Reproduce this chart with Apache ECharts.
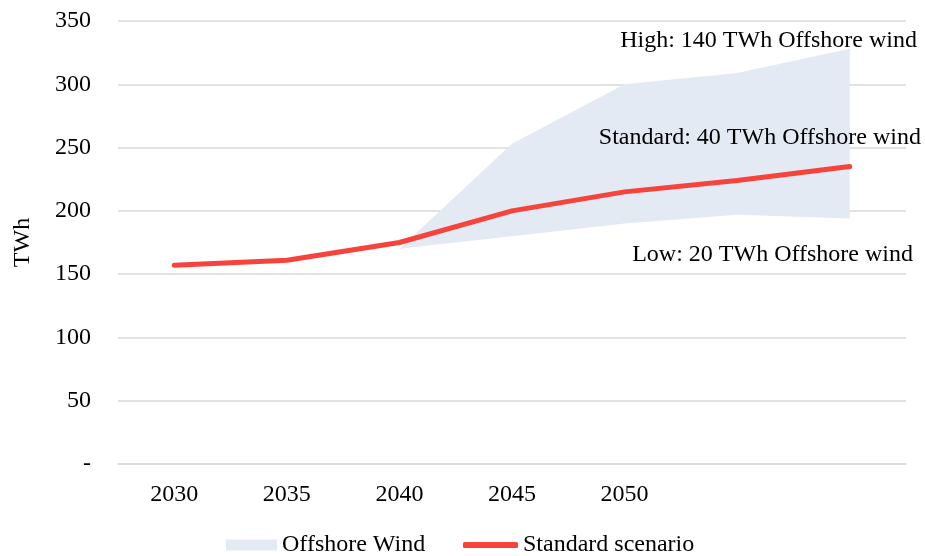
<!DOCTYPE html>
<html>
<head>
<meta charset="utf-8">
<script src="https://cdn.jsdelivr.net/npm/echarts@6/dist/echarts.min.js"></script>
<style>
  html, body { margin: 0; padding: 0; background: #fff; }
  #chart { width: 925px; height: 556px; }
</style>
</head>
<body>
<div id="chart"></div>
<script>
// Year categories along the x axis (the last two carry no tick label)
const years = ['2030', '2035', '2040', '2045', '2050', '2055', '2060'];
const yearLabels = ['2030', '2035', '2040', '2045', '2050', '', ''];

// Standard scenario, TWh
const standardScenario = [157, 161, 175, 200, 215, 224, 235];

// Offshore wind range: low and high edges of the band, TWh
const offshoreLow  = [null, null, 170, 180, 190, 197, 194];
const offshoreHigh = [null, null, 170, 253, 300, 309, 328];

// Y-axis tick labels
const yTicks = [0, 50, 100, 150, 200, 250, 300, 350];
const yTickText = ['-', '50', '100', '150', '200', '250', '300', '350'];

// Scenario notes
const notes = [
  { text: 'High: 140 TWh Offshore wind', x: 917, y: 41 },
  { text: 'Standard: 40 TWh Offshore wind', x: 921, y: 138 },
  { text: 'Low: 20 TWh Offshore wind', x: 913, y: 255 }
];

const FONT = '"Liberation Serif", "Times New Roman", serif';
const FS = 24;
const BAND = '#E3EAF3';
const RED = '#F6433B';

// Band thickness on top of the low edge, for stacking
const bandWidth = offshoreHigh.map((h, i) =>
  h == null || offshoreLow[i] == null ? '-' : h - offshoreLow[i]);
const bandBase = offshoreLow.map(v => v == null ? '-' : v);

const chart = echarts.init(document.getElementById('chart'), null, { renderer: 'canvas' });

chart.setOption({
  animation: false,
  backgroundColor: '#fff',
  grid: { left: 118, right: 19, top: 21, bottom: 92 },
  legend: [
    {
      data: ['Offshore Wind'],
      left: 221, top: 527,
      icon: 'rect', itemWidth: 51, itemHeight: 11,
      textStyle: { fontFamily: FONT, fontSize: FS, color: '#000', lineHeight: 26 },
      selectedMode: false
    },
    {
      data: ['Standard scenario'],
      left: 458, top: 527,
      icon: 'roundRect', itemWidth: 55, itemHeight: 6,
      textStyle: { fontFamily: FONT, fontSize: FS, color: '#000', lineHeight: 26 },
      selectedMode: false
    }
  ],
  xAxis: {
    type: 'category',
    data: years,
    boundaryGap: true,
    axisLine: { show: true, lineStyle: { color: '#D9D9D9', width: 1.5 } },
    axisTick: { show: false },
    axisLabel: {
      margin: 19,
      fontFamily: FONT, fontSize: FS, color: '#000',
      formatter: (v, i) => yearLabels[i]
    }
  },
  yAxis: {
    type: 'value',
    min: 0, max: 350, interval: 50,
    name: 'TWh',
    nameLocation: 'middle',
    nameRotate: 90,
    nameGap: 83,
    nameTextStyle: { fontFamily: FONT, fontSize: FS, color: '#000' },
    axisLine: { show: false },
    axisTick: { show: false },
    splitLine: { lineStyle: { color: '#D9D9D9', width: 1.5 } },
    axisLabel: {
      margin: 27,
      fontFamily: FONT, fontSize: FS, color: '#000',
      formatter: v => yTickText[yTicks.indexOf(v)]
    }
  },
  series: [
    {
      name: 'offshore-low',
      type: 'line',
      stack: 'offshore',
      data: bandBase,
      symbol: 'none',
      lineStyle: { width: 0, opacity: 0 },
      silent: true,
      z: 1
    },
    {
      name: 'Offshore Wind',
      type: 'line',
      stack: 'offshore',
      data: bandWidth,
      symbol: 'none',
      itemStyle: { color: BAND },
      lineStyle: { width: 0, opacity: 0 },
      areaStyle: { color: BAND, opacity: 1 },
      silent: true,
      z: 1
    },
    {
      name: 'Standard scenario',
      type: 'line',
      data: standardScenario,
      symbol: 'none',
      itemStyle: { color: RED },
      lineStyle: { color: RED, width: 5, cap: 'round', join: 'round' },
      z: 3
    }
  ],
  graphic: notes.map(n => ({
    type: 'text',
    x: n.x, y: n.y,
    z: 10,
    style: {
      text: n.text,
      fill: '#000',
      font: FS + 'px ' + FONT,
      textAlign: 'right',
      textVerticalAlign: 'middle'
    }
  }))
});
</script>
</body>
</html>
